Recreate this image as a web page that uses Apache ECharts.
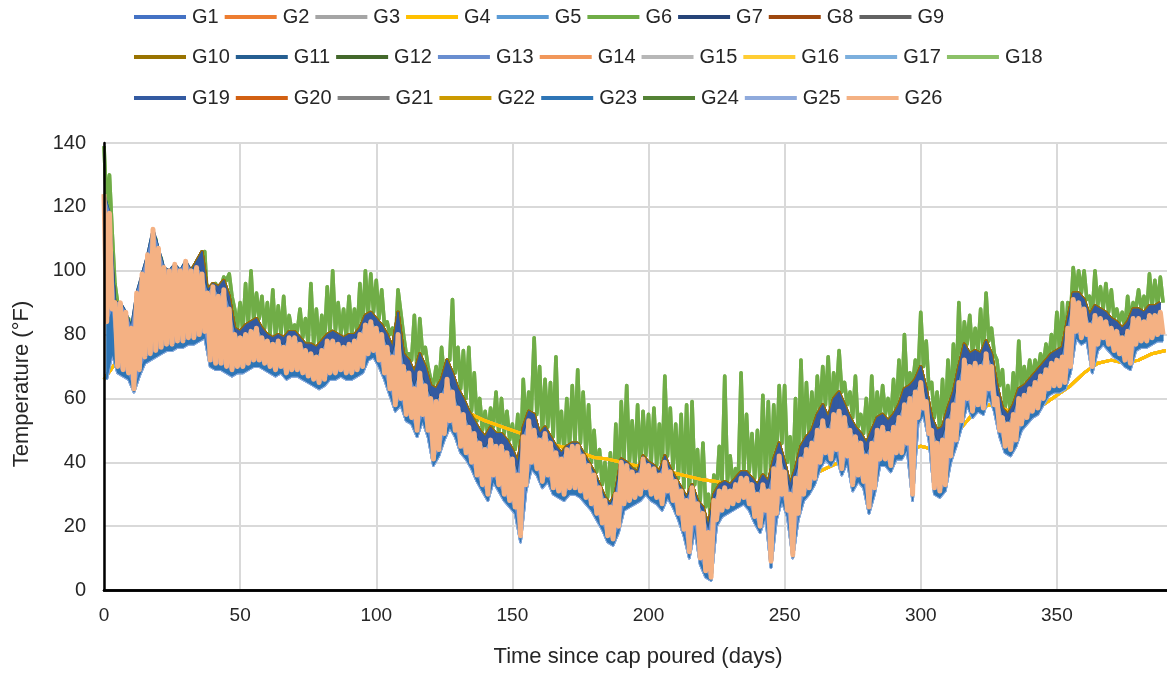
<!DOCTYPE html>
<html>
<head>
<meta charset="utf-8">
<script src="https://cdn.jsdelivr.net/npm/echarts@6/dist/echarts.min.js"></script>
<style>
html,body{margin:0;padding:0;background:#fff;}
#chart{width:1167px;height:675px;}
</style>
</head>
<body>
<div id="chart"></div>
<script>
// ---- Data (°F) ----
// Core band (G26 & neighbours): daily high on even days, daily low on odd days
const HI_STEP = 2;               // days between successive samples
const CORE_HI = [
124,118,90,90,87,82,93,99,105,113,
107,101,100,102,100,103,100,101,99,93,
95,92,94,88,80,79,80,81,82,79,
78,77,78,76,79,79,77,75,74,73,
75,78,78,77,76,77,78,80,83,84,
82,80,76,73,80,70,68,63,68,64,
60,59,61,66,62,57,55,51,49,46,
44,47,45,45,43,41,36,48,53,50,
47,49,46,43,41,44,45,45,42,39,
36,32,28,26,30,40,39,37,36,41,
39,38,36,40,37,34,31,28,32,27,
24,18,28,31,32,31,33,35,35,33,
30,33,31,38,42,37,30,35,41,44,
46,50,53,50,55,56,54,50,48,46,
42,46,50,51,49,51,54,58,60,62,
65,59,50,46,47,53,58,65,72,70,
71,70,74,70,60,54,52,55,60,61,
63,65,67,69,71,72,73,82,91,90,
88,83,86,85,84,82,81,79,81,85,
85,84,86,86,87];
const CORE_LO = [
84,88,70,69,68,63,69,73,74,75,
76,77,77,78,78,79,79,80,81,72,
71,71,70,69,70,70,71,72,72,71,
70,69,70,68,69,69,68,67,66,65,
66,68,68,69,68,68,69,70,74,75,
72,68,63,58,60,55,54,50,55,50,
41,44,49,53,50,45,43,40,36,33,
30,36,33,30,28,26,17,33,40,38,
34,36,32,31,30,32,32,31,29,27,
24,21,17,16,20,27,28,29,30,32,
30,29,27,31,28,24,19,12,21,10,
6,4,22,25,26,27,28,29,27,23,
20,25,9,24,30,25,11,24,30,32,
35,40,43,41,44,38,42,33,36,34,
26,32,41,41,39,43,43,46,30,54,
57,49,32,31,33,42,47,53,60,56,
58,57,63,58,50,45,44,47,52,54,
56,57,60,63,64,64,65,70,81,79,
80,70,77,79,77,75,74,72,71,77,
78,78,79,80,80];
// G6 daily peaks (even days)
const GREEN_PEAK = [
139,130,96,86,84,79,89,95,101,108,
103,98,97,99,97,100,97,98,96,90,
92,90,98,99,88,90,96,100,93,92,
90,94,89,92,86,83,88,85,96,88,
86,95,100,90,88,92,88,96,100,99,
97,94,84,82,94,80,74,86,85,76,
66,70,76,72,91,76,75,76,68,60,
56,57,62,60,56,52,55,66,62,79,
70,66,65,73,56,60,64,69,62,58,
50,44,40,43,52,59,64,53,58,56,
55,57,52,67,57,52,55,58,59,44,
46,30,36,45,67,42,38,68,55,49,
50,61,59,58,64,64,48,60,72,65,
62,67,70,73,68,75,65,62,67,55,
60,67,62,64,60,66,72,80,68,72,
87,78,65,62,66,72,77,90,84,86,
82,88,93,82,72,69,64,68,78,70,
72,72,74,77,80,87,90,90,101,100,
100,92,100,95,96,94,88,87,92,90,
94,92,99,97,98];
// Upper fringe (dark blue / brown gauges), even days
const UPPER = [
120,112,90,88,85,80,90,96,102,110,
104,98,97,99,97,100,100,103,106,94,
96,95,97,92,82,81,83,84,85,82,
80,79,80,79,81,81,79,77,77,76,
78,80,81,80,79,80,80,82,86,87,
85,83,80,76,87,74,72,68,74,70,
64,63,66,72,68,63,60,56,53,50,
48,51,49,49,47,44,40,51,56,55,
49,51,48,45,43,45,46,46,43,40,
37,33,29,27,31,41,40,38,37,42,
40,39,37,42,38,35,32,29,33,28,
26,20,30,33,34,33,35,37,37,35,
33,36,34,41,46,40,33,38,45,48,
50,55,58,54,60,62,58,54,51,49,
46,50,54,55,53,55,58,63,64,66,
70,63,54,50,51,57,62,70,77,74,
75,74,78,74,64,57,55,58,63,64,
66,68,70,72,74,75,76,85,93,93,
91,86,89,88,87,85,84,82,84,88,
88,87,89,89,90];
// Lower fringe (blue gauges), odd days
const LOWER = [
66,74,68,67,66,62,67,71,72,73,
74,75,75,76,76,77,77,78,79,70,
69,69,68,67,68,68,69,70,70,69,
68,67,68,66,67,67,66,65,64,63,
64,66,66,67,66,66,67,68,72,73,
70,66,61,56,58,53,52,48,53,48,
39,42,47,51,48,43,41,38,34,31,
28,34,31,28,26,24,15,31,38,36,
32,34,30,29,28,30,30,29,27,25,
22,19,15,14,18,25,26,27,28,30,
28,27,25,29,26,22,17,10,19,8,
4,3,20,23,24,25,26,27,25,21,
18,23,7,22,28,23,10,22,28,30,
33,38,41,39,42,36,40,31,34,32,
24,30,39,39,37,41,41,44,28,52,
55,47,30,29,31,40,45,51,58,54,
56,55,61,56,48,43,42,45,50,52,
54,55,58,61,62,62,63,68,79,77,
78,68,75,77,75,73,72,70,69,75,
76,76,77,78,78];
// Deep, slowly varying gauges (every 5 days)
const SMOOTH_STEP = 5;
const SMOOTH = [
66,72,75,78,80,80,80,81,78,76,
75,75,74,73,73,72,71,72,72,74,
75,73,69,66,63,60,57,55,53,51.5,
50,48.5,47,45.5,44.5,43,41.5,41,40,39,
38.5,37.5,36.5,35.5,34.5,34,33,32,32,32,
33,34,36,38,40,41,41,42,43,44,
45,44,47,51,56,58,57,55,55,58,
61,64,68,71,72,71,72,74,75];

const X_TICKS = {min:0, max:400, interval:50};
const Y_TICKS = {min:0, max:140, interval:20};

const NAMES = ['G1','G2','G3','G4','G5','G6','G7','G8','G9','G10','G11','G12','G13',
  'G14','G15','G16','G17','G18','G19','G20','G21','G22','G23','G24','G25','G26'];
const COLORS = {
 G1:'#4472C4',G2:'#ED7D31',G3:'#A5A5A5',G4:'#FFC000',G5:'#5B9BD5',G6:'#70AD47',
 G7:'#264478',G8:'#9E480E',G9:'#636363',G10:'#997300',G11:'#255E91',G12:'#43682B',
 G13:'#698ED0',G14:'#F1975A',G15:'#B7B7B7',G16:'#FFCD33',G17:'#7CAFDD',G18:'#8CC168',
 G19:'#335AA1',G20:'#D26012',G21:'#848484',G22:'#CC9A00',G23:'#2E75B6',G24:'#548235',
 G25:'#8FAADC',G26:'#F4B183'};

// ---- build series point lists ----
function zig(hi, lo){ const out=[]; for(let k=0;k<hi.length;k++){ out.push([k*HI_STEP, hi[k]]); out.push([k*HI_STEP+1, lo[k]]); } return out; }
function line(arr, step, offset){ return arr.map((v,i)=>[i*step+offset, v]); }
// band quads between a top and a bottom sequence: [xt0,t0,xb0,b0,xt1,t1,xb1,b1]
function band(top, topOff, bot, botOff){
  const out=[];
  for (let k=0; k<top.length-1; k++) out.push([k*HI_STEP+topOff, top[k], k*HI_STEP+botOff, bot[k], (k+1)*HI_STEP+topOff, top[k+1], (k+1)*HI_STEP+botOff, bot[k+1]]);
  return out;
}

const greenData = zig(GREEN_PEAK, UPPER);
const coreZig = zig(CORE_HI, CORE_LO);
const upperData = line(UPPER, HI_STEP, 0);
const hiEdgeData = line(CORE_HI, HI_STEP, 0);
const lowerData = line(LOWER, HI_STEP, 1);
const smoothData = line(SMOOTH, SMOOTH_STEP, 0);

function lineSeries(n, data, w, z){
  return {name:n, type:'line', data:data, showSymbol:false, symbol:'none', z:z,
    lineStyle:{width:w, color:COLORS[n], join:'round'}, itemStyle:{color:COLORS[n]}, animation:false};
}
function bandSeries(n, data, strokeW, z){
  return {name:n, type:'custom', data:data, z:z, encode:{x:[0,2,4,6], y:[1,3,5,7]},
    itemStyle:{color:COLORS[n]}, animation:false,
    renderItem:function(params, api){
      const p = [api.coord([api.value(0),api.value(1)]), api.coord([api.value(4),api.value(5)]),
                 api.coord([api.value(6),api.value(7)]), api.coord([api.value(2),api.value(3)])];
      return {type:'polygon', shape:{points:p}, style:{fill:COLORS[n], stroke:COLORS[n], lineWidth:strokeW, lineJoin:'round'}};
    }};
}

// drawing order, bottom to top (explicit z per layer)
const series = [];
['G18','G6'].forEach(n=>series.push(lineSeries(n, greenData, 3.6, 2)));
['G3','G15','G2','G22','G14','G16','G4'].forEach(n=>series.push(lineSeries(n, smoothData, 3, 3)));
['G9','G21','G12','G24','G20','G8','G10'].forEach(n=>series.push(lineSeries(n, upperData, 3, 4)));
series.push(bandSeries('G19', band(UPPER,0,CORE_HI,0), 1, 5));
['G7','G11'].forEach(n=>series.push(lineSeries(n, hiEdgeData, 2.6, 6)));
['G1','G5','G17','G25'].forEach(n=>series.push(lineSeries(n, lowerData, 2.6, 6)));
series.push(bandSeries('G23', band(CORE_LO,1,LOWER,1), 1, 7));
series.push(bandSeries('G13', band(CORE_HI,0,CORE_LO,1), 1, 8));
series.push(lineSeries('G26', coreZig, 5, 9));

const FONT = 'Liberation Sans, Arial, sans-serif';
function legendRow(names, top){
  return {data:names.map(n=>({name:n, icon:'rect', itemStyle:{color:COLORS[n]}})), top:top, left:134, orient:'horizontal', padding:0,
    itemWidth:52, itemHeight:4, itemGap:6,
    textStyle:{fontFamily:FONT, fontSize:20, color:'#262626', width:40.5, padding:[0,0,0,1]}};
}
const frameAxis = {axisLine:{show:true, lineStyle:{color:'#000', width:2.5}}, axisTick:{show:false},
  axisLabel:{show:false}, splitLine:{show:false}, z:20};

const chart = echarts.init(document.getElementById('chart'), null, {renderer:'canvas'});
chart.setOption({
  animation:false,
  backgroundColor:'#fff',
  legend:[legendRow(NAMES.slice(0,9),7), legendRow(NAMES.slice(9,18),47), legendRow(NAMES.slice(18),88)],
  grid:{left:104, top:143, width:1089, height:447, show:false, containLabel:false, outerBoundsMode:'none'},
  xAxis:[{type:'value', min:X_TICKS.min, max:X_TICKS.max, interval:X_TICKS.interval,
    axisLine:{show:false}, axisTick:{show:false},
    axisLabel:{fontFamily:FONT, fontSize:19, color:'#262626', margin:16},
    splitLine:{show:true, lineStyle:{color:'#D9D9D9', width:2}}, z:1},
   Object.assign({type:'value', position:'top', min:X_TICKS.min, max:X_TICKS.max, interval:X_TICKS.interval}, frameAxis),
   Object.assign({type:'value', position:'bottom', min:X_TICKS.min, max:X_TICKS.max, interval:X_TICKS.interval}, frameAxis)],
  yAxis:[{type:'value', min:Y_TICKS.min, max:Y_TICKS.max, interval:Y_TICKS.interval,
    axisLine:{show:false}, axisTick:{show:false},
    axisLabel:{fontFamily:FONT, fontSize:20, color:'#262626', margin:18},
    splitLine:{show:true, lineStyle:{color:'#D9D9D9', width:2}}, z:1},
   Object.assign({type:'value', position:'left', min:Y_TICKS.min, max:Y_TICKS.max, interval:Y_TICKS.interval}, frameAxis)],
  graphic:[
    {type:'text', x:22, y:384, rotation:Math.PI/2, style:{text:'Temperature (°F)', font:'22px '+FONT, fill:'#262626', textAlign:'center', textVerticalAlign:'middle'}},
    {type:'text', x:638, y:657, style:{text:'Time since cap poured (days)', font:'22px '+FONT, fill:'#262626', textAlign:'center', textVerticalAlign:'middle'}}
  ],
  series:series
});
</script>
</body>
</html>
